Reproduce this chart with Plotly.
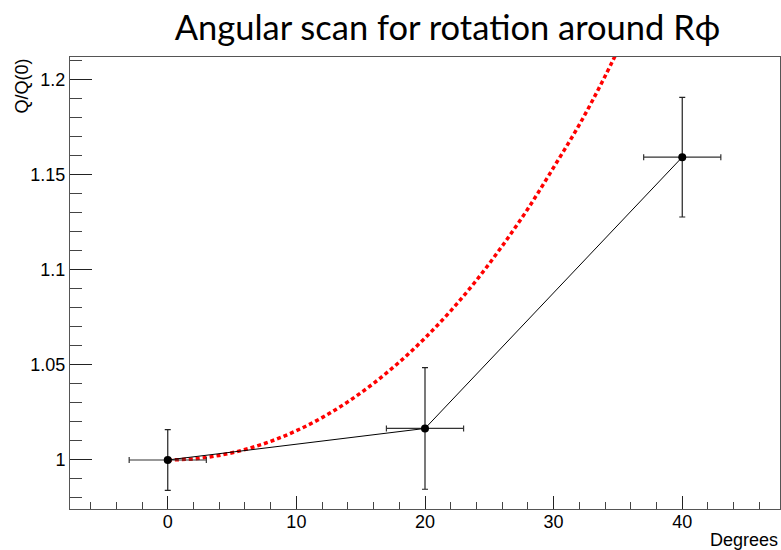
import plotly.graph_objects as go

# Measured points
angles = [0, 20, 40]
angle_err = [3, 3, 3]
ratio = [1.0, 1.0166, 1.1594]
ratio_err = [0.016, 0.032, 0.0315]

# Red dotted reference curve
curve_angles = [0, 2, 4, 6, 8, 10, 12, 14, 16, 18, 20, 22, 24, 26, 28, 30, 32, 34, 36]
curve_ratio = [1.0, 1.0006, 1.0024, 1.0055, 1.0098, 1.0154, 1.0223, 1.0306, 1.0403,
               1.0515, 1.0642, 1.0785, 1.0946, 1.1126, 1.1322, 1.1540, 1.1765, 1.2020, 1.2300]

x_ticks = [0, 10, 20, 30, 40]
y_ticks = [1.0, 1.05, 1.1, 1.15, 1.2]

fig = go.Figure()

fig.add_trace(go.Scatter(
    x=curve_angles, y=curve_ratio, mode="lines",
    line=dict(color="#ff0000", width=3.5, dash="4px,3px", shape="spline"),
    hoverinfo="skip", showlegend=False,
))

fig.add_trace(go.Scatter(
    x=angles, y=ratio, mode="lines+markers",
    line=dict(color="black", width=1),
    marker=dict(color="black", size=8),
    error_x=dict(type="data", array=angle_err, color="#333333", thickness=1.2, width=3),
    error_y=dict(type="data", array=ratio_err, color="#222222", thickness=1.2, width=3),
    showlegend=False,
))

tick_font = dict(family="Liberation Sans, Arial, sans-serif", size=18, color="black")

fig.update_layout(
    width=781, height=550,
    margin=dict(l=70, r=1, t=57, b=41),
    paper_bgcolor="white", plot_bgcolor="white",
    title=dict(
        text="Angular scan for rotation around Rϕ",
        font=dict(family="Lato, Open Sans, sans-serif", size=34.5, color="black"),
        x=447.5 / 781, xanchor="center", xref="container",
        y=1 - 28 / 550, yanchor="middle", yref="container",
    ),
    xaxis=dict(
        range=[-7.6, 47.6], tickmode="array", tickvals=x_ticks,
        ticktext=[str(v) for v in x_ticks],
        ticks="inside", ticklen=13, tickwidth=1, tickcolor="#222",
        minor=dict(dtick=2, tick0=0, ticks="inside", ticklen=7, tickcolor="#444", showgrid=False),
        showgrid=False, zeroline=False,
        showline=True, linecolor="#555", linewidth=1, mirror=True,
        tickfont=tick_font, ticklabelstandoff=-4,
    ),
    yaxis=dict(
        range=[0.9742, 1.2121], tickmode="array", tickvals=y_ticks,
        ticktext=["1", "1.05", "1.1", "1.15", "1.2"],
        ticks="inside", ticklen=22, tickwidth=1, tickcolor="#222",
        minor=dict(dtick=0.01, tick0=1.0, ticks="inside", ticklen=12, tickcolor="#444", showgrid=False),
        showgrid=False, zeroline=False,
        showline=True, linecolor="#555", linewidth=1, mirror=True,
        tickfont=tick_font,
    ),
    annotations=[
        dict(text="Degrees", xref="paper", yref="paper", x=1.0, y=-0.068,
             xanchor="right", yanchor="middle", showarrow=False, font=tick_font),
        dict(text="Q/Q(0)", xref="paper", yref="paper", x=-0.069, y=1.0,
             xanchor="center", yanchor="top", textangle=-90, showarrow=False, font=tick_font),
    ],
)

fig.write_html("out.html")
